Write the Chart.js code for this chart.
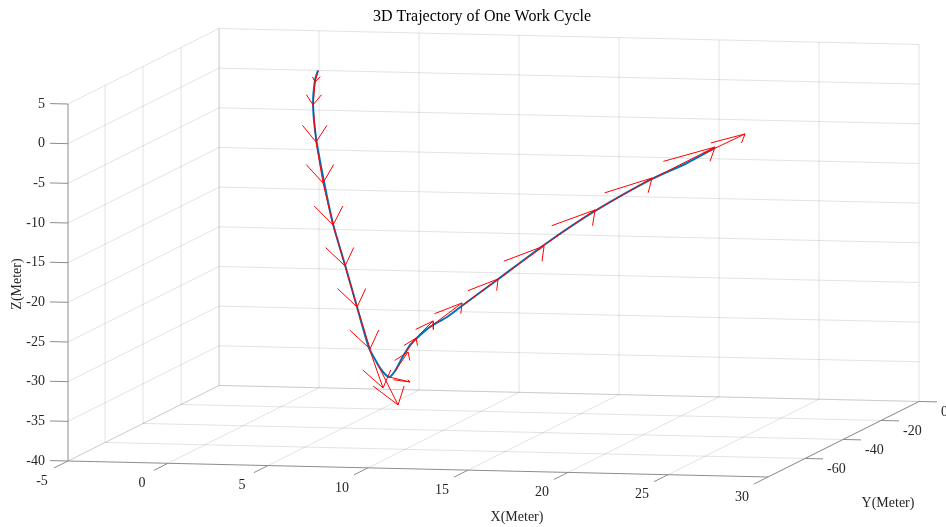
<!DOCTYPE html>
<html>
<head>
<meta charset="utf-8">
<title>3D Trajectory of One Work Cycle</title>
<script src="https://cdn.jsdelivr.net/npm/chart.js@4/dist/chart.umd.min.js"></script>
<style>
  html, body { margin: 0; padding: 0; background: #ffffff; }
  #wrap { width: 946px; height: 527px; position: relative; }
</style>
</head>
<body>
<div id="wrap"><canvas id="chart"></canvas></div>
<script>
// ---- Axis limits and ticks (metres) ----
const xLimits = [-5, 30];
const yLimits = [-79.5, 0];
const zLimits = [-40, 5];
const xTicks = [-5, 0, 5, 10, 15, 20, 25, 30];
const yTicks = [-60, -40, -20, 0];
const zTicks = [5, 0, -5, -10, -15, -20, -25, -30, -35, -40];

// ---- Trajectory of the work cycle ----
const trajX = [3.75, 3.6, 3.5, 3.65, 4.05, 4.5, 5.1, 5.7, 6.3, 6.7, 7.0, 7.3, 7.6, 7.95, 8.35, 8.75, 9.35, 10.2, 11.0, 12.7, 15.05, 17.6, 20.45, 22.2, 23.6];
const trajY = [-40, -40, -40, -40, -40, -40, -40, -40, -40, -40, -40, -40, -40, -40, -40, -40, -40, -40, -40, -40, -40, -40, -40, -40, -40];
const trajZ = [5.0, 3.8, 0.76, -3.51, -9.04, -14.3, -19.44, -24.7, -29.83, -31.7, -32.82, -33.43, -32.66, -31.0, -29.34, -28.3, -27.0, -25.7, -24.14, -20.89, -16.34, -11.91, -7.71, -5.6, -3.62];

// ---- Velocity arrows: base points and vectors ----
const arrowX = [3.75, 3.6, 3.5, 3.65, 4.0, 4.5, 5.1, 5.7, 6.3, 6.7, 7.3, 7.6, 8.05, 8.55, 9.35, 11.0, 12.7, 15.05, 17.6, 20.45, 23.0];
const arrowY = [-40, -40, -40, -40, -40, -40, -40, -40, -40, -40, -40, -40, -40, -40, -40, -40, -40, -40, -40, -40, -40];
const arrowZ = [5.0, 3.54, 0.64, -4.02, -9.17, -14.43, -19.56, -24.7, -29.83, -31.7, -33.43, -32.66, -30.61, -28.69, -27.0, -24.14, -20.89, -16.34, -11.91, -7.71, -4.41];
const arrowU = [-0.15, -0.1, 0.15, 0.35, 0.5, 0.6, 0.6, 0.65, 0.7, 1.05, 1.05, 0.65, 0.6, 0.95, 1.6, 1.75, 2.35, 2.55, 2.85, 3.15, 2.1];
const arrowV = [0, 0, 0, 0, 0, 0, 0, 0, 0, 0, 0, 0, 0, 0, 0, 0, 0, 0, 0, 0, 0];
const arrowW = [-1.46, -2.9, -4.66, -5.15, -5.26, -5.13, -5.14, -5.25, -5.0, -5.23, -0.57, 2.44, 2.17, 2.45, 3.11, 3.38, 4.42, 4.56, 4.32, 4.21, 2.64];

// ---- Orthographic view: plane offset of one metre along each data axis ----
const view = {
  origin: [68, 461],     // plane position of (xmin, ymin, zmin)
  ex: [20, 0.457],
  ey: [1.9, -0.95],
  ez: [0, -7.933]
};
function project(x, y, z) {
  const dx = x - xLimits[0], dy = y - yLimits[0], dz = z - zLimits[0];
  return {
    x: view.origin[0] + dx * view.ex[0] + dy * view.ey[0] + dz * view.ez[0],
    y: view.origin[1] + dx * view.ex[1] + dy * view.ey[1] + dz * view.ez[1]
  };
}

const GAP = { x: NaN, y: NaN };
function segmentsToPoints(segs) {
  const out = [];
  segs.forEach((s, i) => {
    if (i) out.push(GAP);
    s.forEach(p => out.push(project(p[0], p[1], p[2])));
  });
  return out;
}

const [x0, x1] = xLimits, [y0, y1] = yLimits, [z0, z1] = zLimits;

// grid on the back wall (y = ymax), side wall (x = xmin) and floor (z = zmin)
const gridSegs = [];
xTicks.forEach(t => { gridSegs.push([[t, y1, z0], [t, y1, z1]]); gridSegs.push([[t, y0, z0], [t, y1, z0]]); });
zTicks.forEach(t => { gridSegs.push([[x0, y1, t], [x1, y1, t]]); gridSegs.push([[x0, y0, t], [x0, y1, t]]); });
yTicks.forEach(t => { gridSegs.push([[x0, t, z0], [x0, t, z1]]); gridSegs.push([[x0, t, z0], [x1, t, z0]]); });

// axis lines and outward tick marks
const axisSegs = [
  [[x0, y0, z0], [x0, y0, z1]],
  [[x0, y0, z0], [x1, y0, z0]],
  [[x1, y0, z0], [x1, y1, z0]]
];
zTicks.forEach(t => axisSegs.push([[x0, y0, t], [x0 - 0.9, y0, t]]));
xTicks.forEach(t => axisSegs.push([[t, y0, z0], [t, y0 - 7.4, z0]]));
yTicks.forEach(t => axisSegs.push([[x1, t, z0], [x1 + 0.9, t, z0]]));

// trajectory polyline
const trajPoints = trajX.map((x, i) => project(x, trajY[i], trajZ[i]));

// quiver arrows: shaft from base to tip, head drawn in the view plane
const arrowPoints = [];
arrowX.forEach((x, i) => {
  const b = project(x, arrowY[i], arrowZ[i]);
  const t = project(x + arrowU[i], arrowY[i] + arrowV[i], arrowZ[i] + arrowW[i]);
  const sx = t.x - b.x, sy = t.y - b.y;
  const len = Math.hypot(sx, sy);
  const cx = t.x - 0.45 * sx, cy = t.y - 0.45 * sy;
  const w = 0.33 * len;
  if (i) arrowPoints.push(GAP);
  arrowPoints.push(b, t, GAP, { x: cx - w, y: cy }, t, { x: cx + w, y: cy });
});

const textColor = '#262626';
const serif = '"Liberation Serif", "Times New Roman", serif';

const axisText = {
  id: 'axisText',
  afterDatasetsDraw(chart) {
    const ctx = chart.ctx, sx = chart.scales.x, sy = chart.scales.y;
    const at = (x, y, z) => {
      const p = project(x, y, z);
      return [sx.getPixelForValue(p.x), sy.getPixelForValue(p.y)];
    };
    ctx.save();
    ctx.fillStyle = textColor;
    ctx.font = '14px ' + serif;
    ctx.textBaseline = 'middle';

    ctx.textAlign = 'right';
    zTicks.forEach(t => { const [px, py] = at(x0, y0, t); ctx.fillText(String(t), px - 23, py); });

    ctx.textAlign = 'center';
    xTicks.forEach(t => { const [px, py] = at(t, y0, z0); ctx.fillText(String(t), px - 26, py + 20); });

    ctx.textAlign = 'left';
    yTicks.forEach(t => { const [px, py] = at(x1, t, z0); ctx.fillText(String(t), px + 22, py + 10.5); });

    // axis titles
    ctx.textAlign = 'center';
    ctx.fillText('X(Meter)', sx.getPixelForValue(517), sy.getPixelForValue(517));
    ctx.fillText('Y(Meter)', sx.getPixelForValue(888), sy.getPixelForValue(503));
    ctx.save();
    ctx.translate(sx.getPixelForValue(17), sy.getPixelForValue(284));
    ctx.rotate(-Math.PI / 2);
    ctx.fillText('Z(Meter)', 0, 0);
    ctx.restore();

    // title
    ctx.fillStyle = '#000000';
    ctx.font = '16px ' + serif;
    ctx.fillText('3D Trajectory of One Work Cycle', sx.getPixelForValue(482), sy.getPixelForValue(17));
    ctx.restore();
  }
};

const lineDefaults = { showLine: true, pointRadius: 0, pointHoverRadius: 0, clip: false, spanGaps: false, fill: false };

new Chart(document.getElementById('chart'), {
  type: 'scatter',
  data: {
    datasets: [
      Object.assign({ label: 'grid', data: segmentsToPoints(gridSegs), borderColor: 'rgba(38,38,38,0.13)', borderWidth: 1, order: 5 }, lineDefaults),
      Object.assign({ label: 'axes', data: segmentsToPoints(axisSegs), borderColor: '#8c8c8c', borderWidth: 1, order: 4 }, lineDefaults),
      Object.assign({ label: 'trajectory', data: trajPoints, borderColor: '#0072BD', borderWidth: 2, tension: 0.25, order: 2 }, lineDefaults),
      Object.assign({ label: 'velocity', data: arrowPoints, borderColor: '#ff0000', borderWidth: 1, order: 1 }, lineDefaults)
    ]
  },
  options: {
    responsive: true,
    maintainAspectRatio: false,
    animation: false,
    devicePixelRatio: 1,
    events: [],
    layout: { padding: 0 },
    plugins: { legend: { display: false }, title: { display: false }, tooltip: { enabled: false } },
    scales: {
      x: { type: 'linear', min: 0, max: 946, display: false },
      y: { type: 'linear', min: 0, max: 527, reverse: true, display: false }
    }
  },
  plugins: [axisText]
});
</script>
</body>
</html>
